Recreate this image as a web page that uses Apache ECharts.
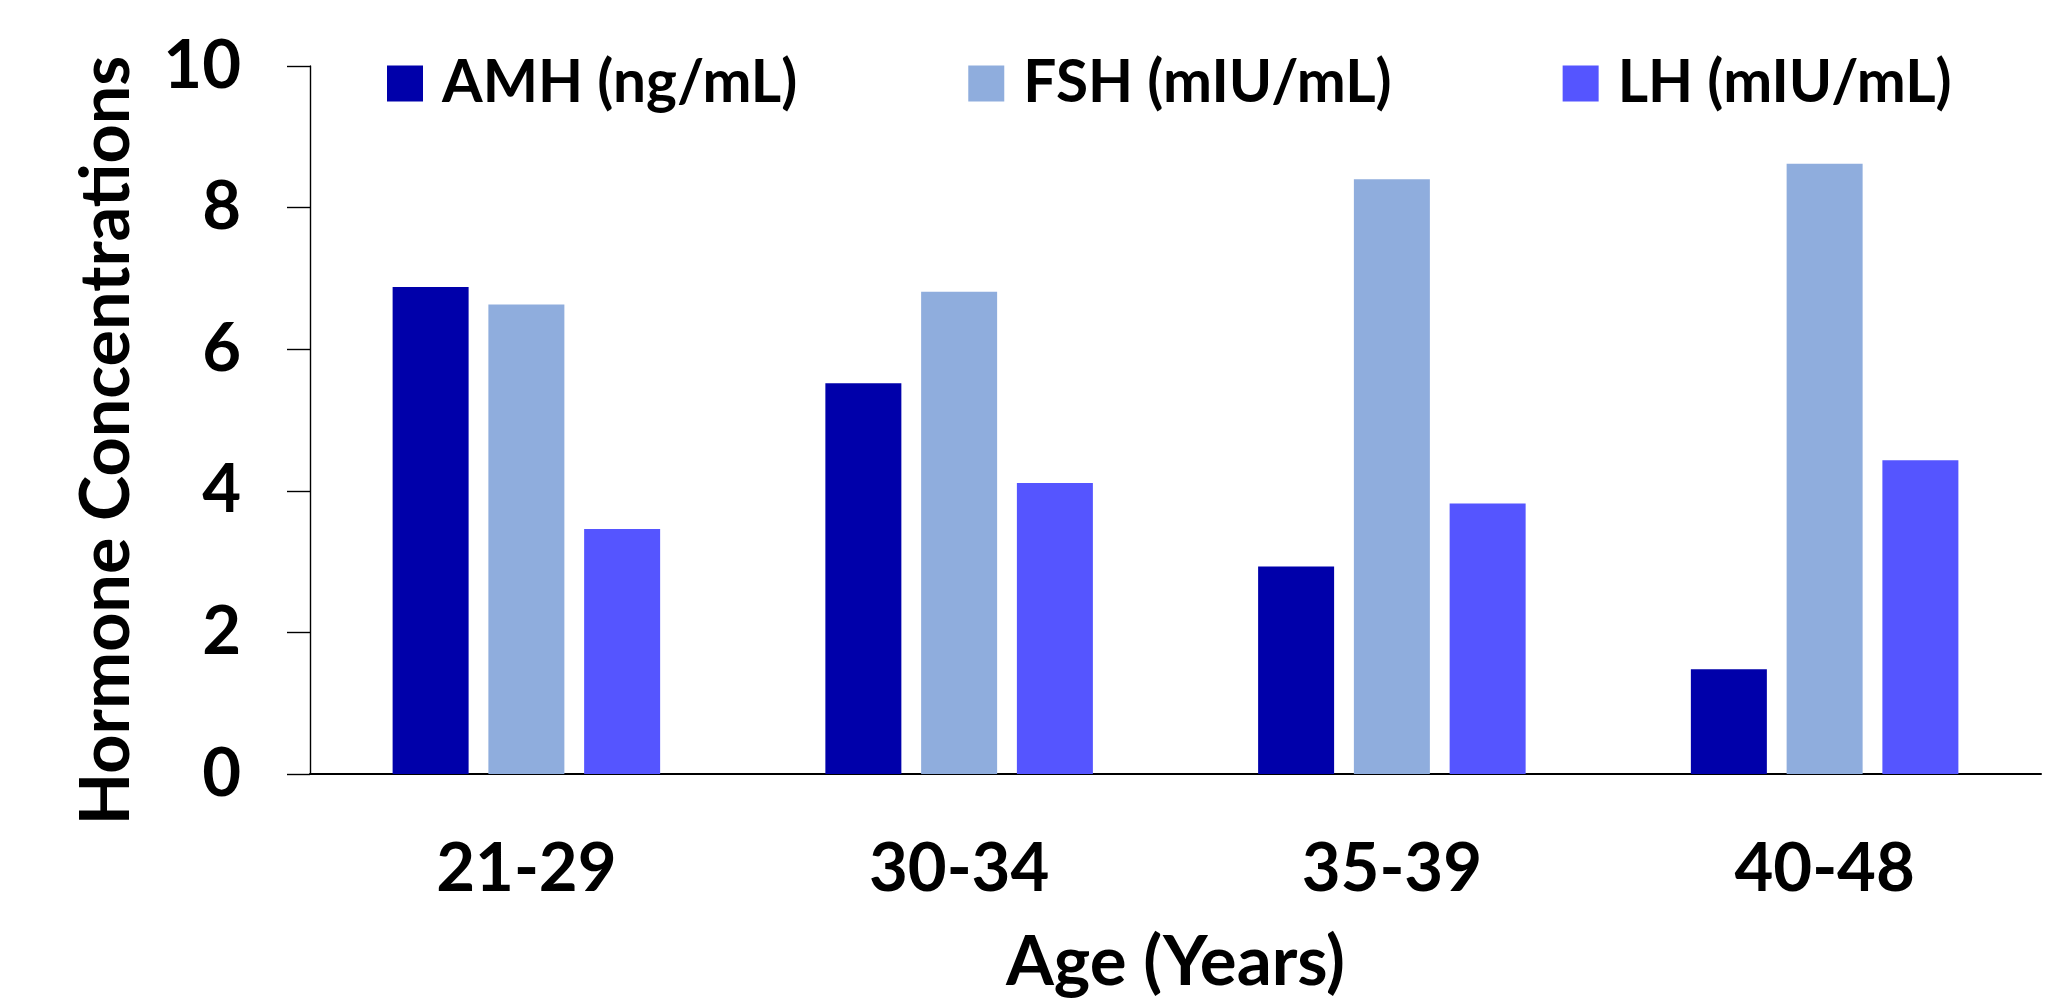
<!DOCTYPE html>
<html>
<head>
<meta charset="utf-8">
<script src="https://cdn.jsdelivr.net/npm/echarts@6/dist/echarts.min.js"></script>
<style>
html,body{margin:0;padding:0;background:#fff;}
#chart{width:2065px;height:1004px;}
</style>
</head>
<body>
<div id="chart"></div>
<script>
const categories = ['21-29', '30-34', '35-39', '40-48'];
const amhValues = [6.88, 5.52, 2.93, 1.48];
const fshValues = [6.63, 6.81, 8.40, 8.62];
const lhValues = [3.46, 4.11, 3.82, 4.43];
const seriesNames = ['AMH (ng/mL)', 'FSH (mIU/mL)', 'LH (mIU/mL)'];
const yTicks = [0, 2, 4, 6, 8, 10];

const FONT = 'Lato, "Open Sans", sans-serif';
const chart = echarts.init(document.getElementById('chart'));
chart.setOption({
  animation: false,
  backgroundColor: '#ffffff',
  color: ['#0000AA', '#8FADDD', '#5555FF'],
  legend: {
    data: seriesNames,
    left: 387,
    top: 54,
    padding: 0,
    itemWidth: 36,
    itemHeight: 36,
    itemGap: 171,
    icon: 'rect',
    textStyle: {
      fontFamily: FONT, fontWeight: 'bold', fontSize: 58.5, color: '#000',
      lineHeight: 36, padding: [0, 0, 0, 14]
    }
  },
  grid: { left: 310, right: 24, top: 66, bottom: 230, containLabel: false },
  xAxis: {
    type: 'category',
    data: categories,
    name: 'Age (Years)',
    nameLocation: 'middle',
    nameGap: 154,
    nameTextStyle: { fontFamily: FONT, fontWeight: 'bold', fontSize: 69, color: '#000' },
    axisLine: { show: true, lineStyle: { color: '#000', width: 2 } },
    axisTick: { show: false },
    axisLabel: { margin: 62, fontFamily: FONT, fontWeight: 'bold', fontSize: 67, color: '#000' },
    splitLine: { show: false }
  },
  yAxis: {
    type: 'value',
    min: yTicks[0],
    max: yTicks[yTicks.length - 1],
    interval: 2,
    name: 'Hormone Concentrations',
    nameLocation: 'middle',
    nameGap: 169,
    nameTextStyle: { fontFamily: FONT, fontWeight: 'bold', fontSize: 68.3, color: '#000', padding: [0, 41, 0, 0] },
    axisLine: { show: true, lineStyle: { color: '#000', width: 1.4 } },
    axisTick: { show: true, length: 23, lineStyle: { color: '#000', width: 1.4 } },
    axisLabel: { margin: 69, fontFamily: FONT, fontWeight: 'bold', fontSize: 67, color: '#000' },
    splitLine: { show: false }
  },
  series: [
    { name: seriesNames[0], type: 'bar', data: amhValues, barWidth: 76, barGap: '26%' },
    { name: seriesNames[1], type: 'bar', data: fshValues, barWidth: 76, barGap: '26%' },
    { name: seriesNames[2], type: 'bar', data: lhValues, barWidth: 76, barGap: '26%' }
  ]
});
</script>
</body>
</html>
